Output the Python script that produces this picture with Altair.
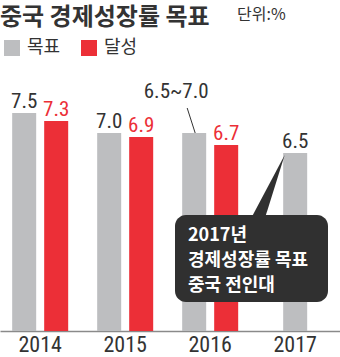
import altair as alt
import pandas as pd

# ---- data ----
years = ["2014", "2015", "2016", "2017"]
series = ["목표", "달성"]
target = [7.5, 7.0, 7.0, 6.5]
target_labels = ["7.5", "7.0", "6.5~7.0", "6.5"]
actual = [7.3, 6.9, 6.7]
actual_labels = ["7.3", "6.9", "6.7"]
callout_lines = ["2017년", "경제성장률 목표", "중국 전인대"]
title_text = "중국 경제성장률 목표"
unit_text = "단위:%"

GREY = "#bdbec0"
RED = "#ec2f37"
DARK = "#333333"
BOX = "#303030"
NUM_FONT = "Roboto Condensed, Noto Sans ExtraCondensed, Noto Sans Condensed, Liberation Sans Narrow, DejaVu Sans Condensed, sans-serif"
KR_FONT = "Noto Sans CJK KR"

rows = []
for i in range(3):
    rows.append(dict(year=years[i], series=series[0], value=target[i], label=target_labels[i]))
    rows.append(dict(year=years[i], series=series[1], value=actual[i], label=actual_labels[i]))
pairs = pd.DataFrame(rows)
last = pd.DataFrame([dict(year=years[3], series=series[0], value=target[3], label=target_labels[3])])
blank = pd.DataFrame({"k": [0]})

BASE = 2.05
TOP = 10.325

y_scale = alt.Scale(domain=[BASE, TOP], nice=False, zero=False)
x_scale = alt.Scale(domain=years, paddingInner=0.341, paddingOuter=0.1705, align=0.42)
off_scale = alt.Scale(domain=series, paddingInner=0.25, paddingOuter=0)
color_scale = alt.Scale(domain=series, range=[GREY, RED])

x_enc = alt.X(
    "year:N", scale=x_scale, sort=years,
    axis=alt.Axis(title=None, ticks=False, labelAngle=0, domainColor="#8a8a8a",
                  domainWidth=1.5, labelFont=NUM_FONT, labelFontSize=22,
                  labelColor=DARK, labelPadding=3, grid=False),
)
off_enc = alt.XOffset("series:N", scale=off_scale, sort=series)
y_enc = alt.Y("value:Q", scale=y_scale, axis=None)

bars = alt.Chart(pairs).mark_bar().encode(
    x=x_enc, xOffset=off_enc, y=y_enc, y2=alt.datum(BASE),
    color=alt.Color("series:N", scale=color_scale, sort=series,
                    legend=alt.Legend(title=None, orient="none", legendX=3, legendY=39,
                                      direction="horizontal", symbolType="square",
                                      symbolSize=256, symbolStrokeWidth=0, symbolOpacity=1,
                                      labelFont=KR_FONT, labelFontSize=18, labelColor=DARK,
                                      labelOffset=6, columnPadding=19, padding=0)),
)

bar17 = alt.Chart(last).mark_bar(width=24, color=GREY).encode(
    x=x_enc, y=y_enc, y2=alt.datum(BASE)
)

t_labels = alt.Chart(pairs).transform_filter(
    (alt.datum.series == series[0]) & (alt.datum.year != years[2])
).mark_text(font=NUM_FONT, fontSize=21, color=DARK, baseline="alphabetic", dy=-5).encode(
    x=x_enc, xOffset=off_enc, y=y_enc, text="label:N"
)

a_labels = alt.Chart(pairs).transform_filter(
    alt.datum.series == series[1]
).mark_text(font=NUM_FONT, fontSize=21, color=RED, baseline="alphabetic", dy=-5).encode(
    x=x_enc, xOffset=off_enc, y=y_enc, text="label:N"
)

range_label = alt.Chart(pairs).transform_filter(
    (alt.datum.series == series[0]) & (alt.datum.year == years[2])
).mark_text(font=NUM_FONT, fontSize=21, color=DARK, baseline="alphabetic", dx=-18, dy=-35).encode(
    x=x_enc, xOffset=off_enc, y=y_enc, text="label:N"
)

leader = alt.Chart(pairs).transform_filter(
    (alt.datum.series == series[0]) & (alt.datum.year == years[2])
).mark_point(shape="M 0.04 0 L -0.28 -1", size=2500, filled=False,
             stroke=DARK, strokeWidth=1, opacity=1).encode(
    x=x_enc, xOffset=off_enc, y=y_enc
)

label17 = alt.Chart(last).mark_text(font=NUM_FONT, fontSize=21, color=DARK,
                                    baseline="alphabetic", dy=-5).encode(
    x=x_enc, y=y_enc, text="label:N"
)

pointer = alt.Chart(last).mark_point(
    shape="M -0.164 0.031 L -0.695 1.03 L -0.477 1.03 Z", size=16384,
    filled=True, fill=BOX, strokeWidth=0, opacity=1
).encode(x=x_enc, y=y_enc)

box = alt.Chart(blank).mark_rect(cornerRadius=11, color=BOX).encode(
    x=alt.value(175), x2=alt.value(328), y=alt.value(215), y2=alt.value(302)
)

callout = alt.Chart(blank).mark_text(
    align="left", baseline="alphabetic", font=KR_FONT, fontWeight="bold",
    fontSize=18, color="white", lineHeight=25
).encode(x=alt.value(188), y=alt.value(241), text=alt.value(callout_lines))

title = alt.Chart(blank).mark_text(
    align="left", baseline="alphabetic", font=KR_FONT, fontWeight="bold",
    fontSize=24, color=DARK
).encode(x=alt.value(0), y=alt.value(25), text=alt.value(title_text))

unit = alt.Chart(blank).mark_text(
    align="left", baseline="alphabetic", font=KR_FONT, fontSize=16, color=DARK
).encode(x=alt.value(237), y=alt.value(20), text=alt.value(unit_text))

chart = alt.layer(
    bars, bar17, t_labels, a_labels, range_label, leader, label17,
    pointer, box, callout, title, unit
).properties(
    width=340, height=331,
    padding={"left": 0, "top": 0, "right": 0, "bottom": 26},
    autosize=alt.AutoSizeParams(type="none"),
    background="white",
).configure_view(stroke=None)

chart.save("out.html", embed_options={"renderer": "svg", "actions": False})
